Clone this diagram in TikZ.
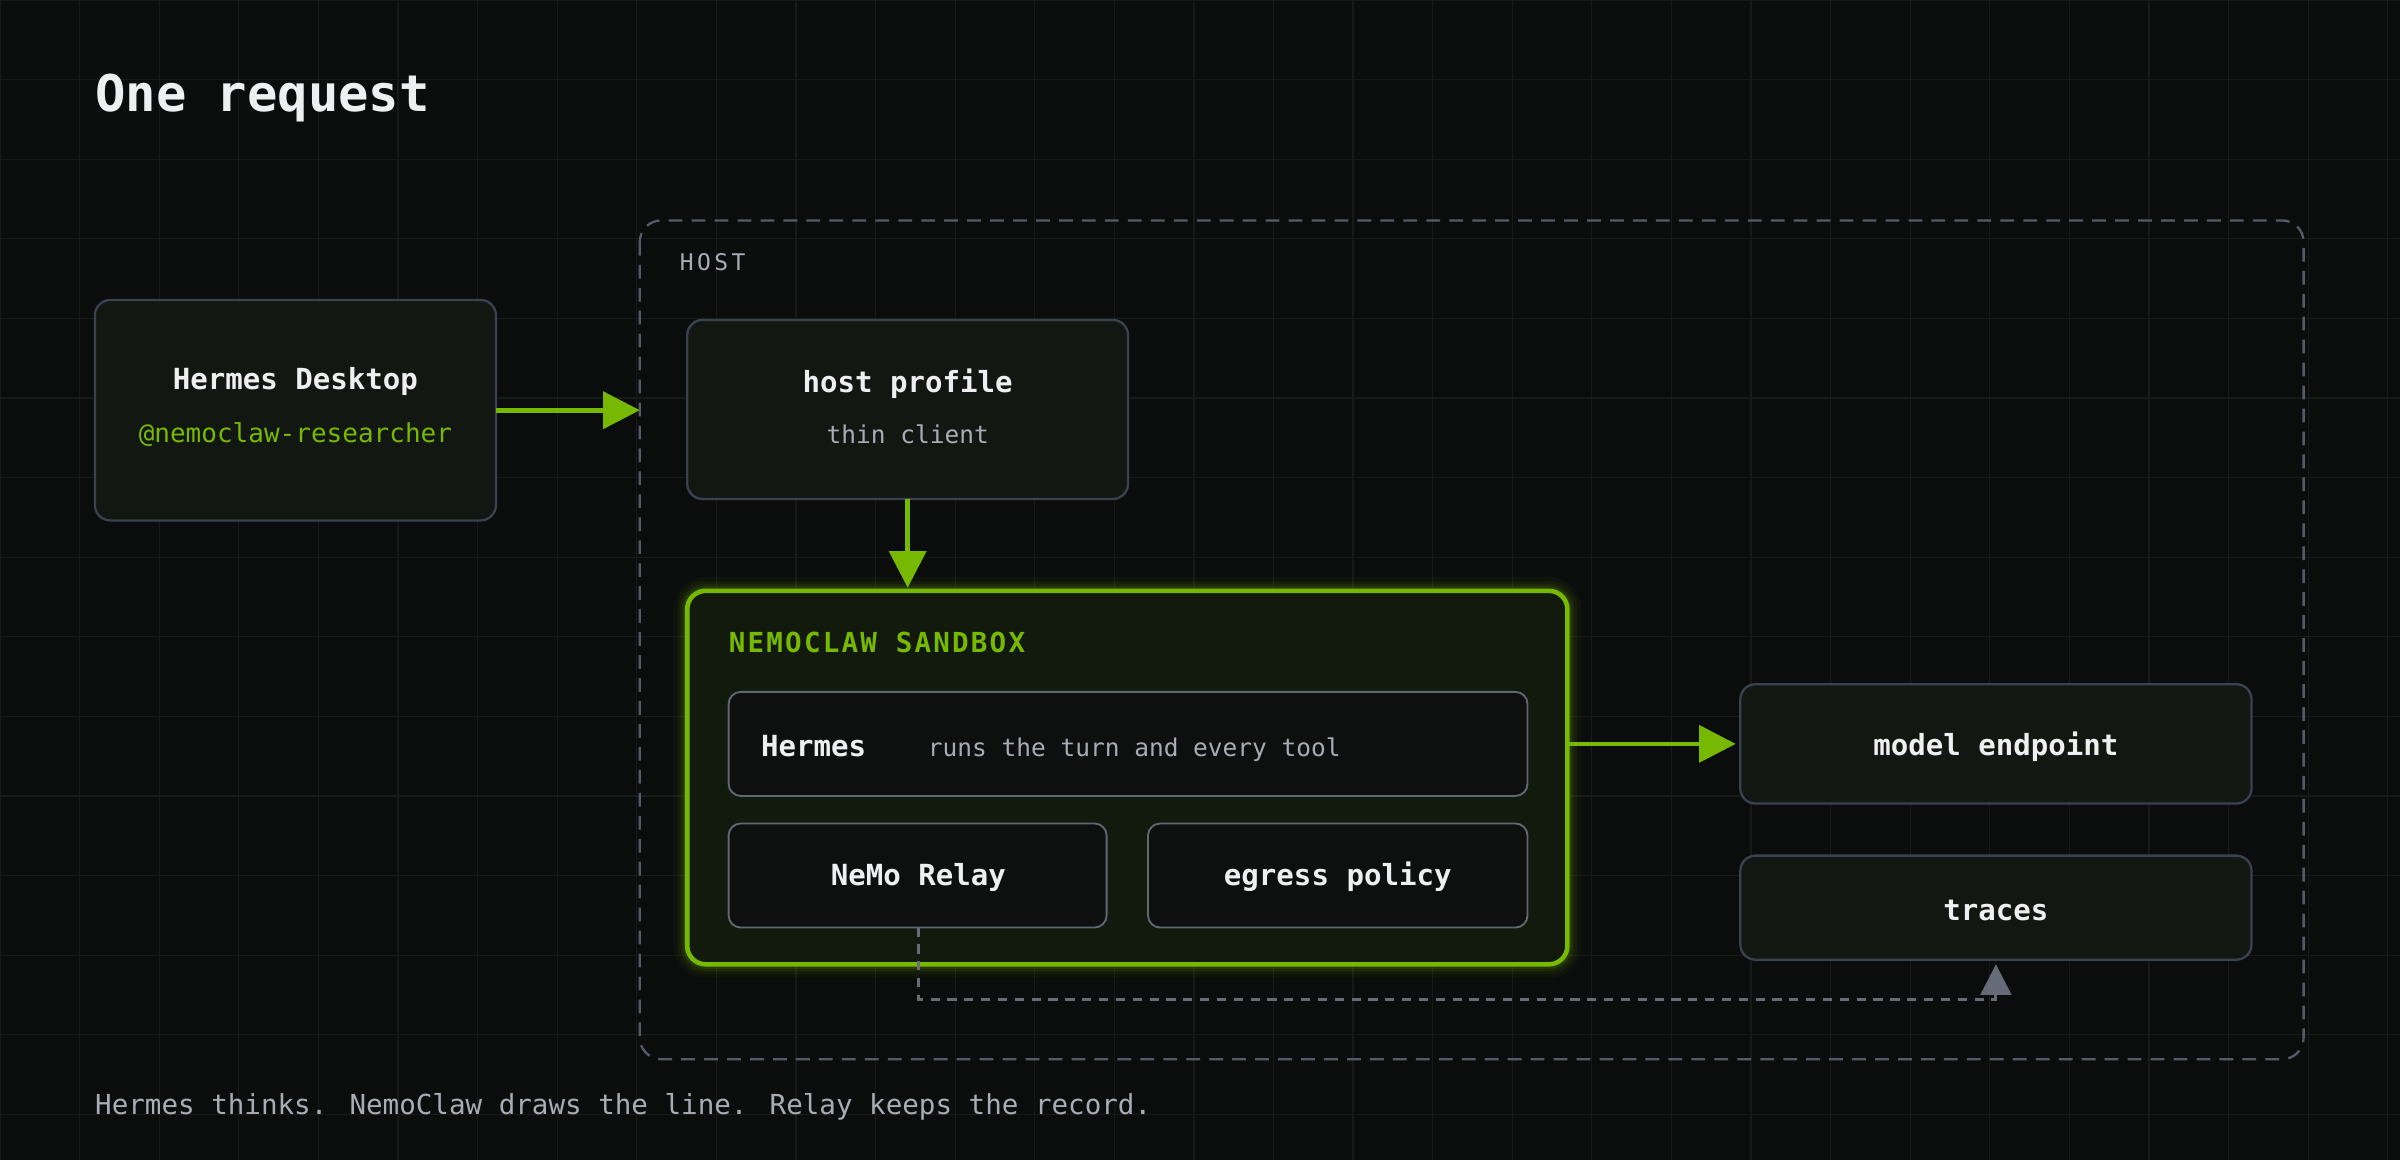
\documentclass[tikz,border=0pt]{standalone}
\usepackage{fontspec}
\setmainfont{DejaVu Sans Mono}
\usetikzlibrary{arrows.meta}
\definecolor{bg}{HTML}{0B0D0C}
\definecolor{gridc}{HTML}{161A18}
\definecolor{boxf}{HTML}{121712}
\definecolor{boxb}{HTML}{3A4150}
\definecolor{nv}{HTML}{76B900}
\definecolor{txt}{HTML}{EDEFF0}
\definecolor{mut}{HTML}{A8ADB5}
\definecolor{dashc}{HTML}{555B68}
\definecolor{sbf}{HTML}{111A0D}
\begin{document}
\begin{tikzpicture}[x=1pt,y=-1pt,
  box/.style={draw=boxb,line width=1.5pt,fill=boxf,rounded corners=10pt},
  ibox/.style={draw=boxb!80,line width=1.2pt,fill=bg!70!boxf,rounded corners=8pt},
  bt/.style={text=txt,font=\fontsize{19}{22}\selectfont\bfseries},
  st/.style={text=mut,font=\fontsize{16}{19}\selectfont},
  garrow/.style={draw=nv,line width=3pt,-{Triangle[length=24pt,width=24pt]}},
  lbl/.style={anchor=base west,inner sep=0pt}]
\useasboundingbox (0,0) rectangle (1568,758);
\fill[bg] (0,0) rectangle (1568,758);
\foreach \i in {0,...,30} \draw[gridc,line width=0.8pt] (\i*52,0) -- (\i*52,758);
\foreach \j in {0,...,15} \draw[gridc,line width=0.8pt] (0,\j*52) -- (1568,\j*52);
\node[lbl,text=txt,font=\fontsize{33}{38}\selectfont\bfseries] (title) at (62,73) {One request};
% host
\draw[dashc,line width=1.5pt,dash pattern=on 9pt off 6pt,rounded corners=14pt] (418,144) rectangle (1505,692);
\node[lbl,text=mut,font=\fontsize{15}{18}\selectfont\addfontfeature{LetterSpace=15}] (hostl) at (444,177) {HOST};
% desktop
\draw[box] (62,196) rectangle (324,340);
\node (desk) at (193,268) {};
\node[bt] at (193,249) {Hermes Desktop};
\node[text=nv,font=\fontsize{17}{20}\selectfont] at (193,284) {@nemoclaw-researcher};
% host profile
\draw[box] (449,209) rectangle (737,326);
\node[bt] at (593,251) {host profile};
\node[st] at (593,284) {thin client};
\coordinate (deskR) at (324,268);
\coordinate (hostL) at (418,268);
\draw[garrow] (deskR) -- (hostL);
\coordinate (hpB) at (593,326);
\coordinate (sbT) at (593,384);
\draw[garrow] (hpB) -- (sbT);
% sandbox glow
\foreach \w/\o in {18/0.04,13/0.06,9/0.08,6/0.12} \draw[nv,opacity=\o,line width=\w pt,rounded corners=12pt] (449,386) rectangle (1024,630);
\draw[draw=nv,line width=3pt,fill=sbf,rounded corners=12pt] (449,386) rectangle (1024,630);
\node[lbl,text=nv,font=\fontsize{18}{21}\selectfont\bfseries\addfontfeature{LetterSpace=8}] at (476,426) {NEMOCLAW SANDBOX};
\draw[ibox] (476,452) rectangle (998,520);
\node[lbl,text=txt,font=\fontsize{19}{22}\selectfont\bfseries] at (497,494) {Hermes};
\node[lbl,st] at (606,494) {runs the turn and every tool};
\draw[ibox] (476,538) rectangle (723,606);
\node[bt] (relay) at (600,573) {NeMo Relay};
\draw[ibox] (750,538) rectangle (998,606);
\node[bt] (egress) at (874,573) {egress policy};
% right
\draw[box] (1137,447) rectangle (1471,525);
\node[bt] (model) at (1304,488) {model endpoint};
\draw[box] (1137,559) rectangle (1471,627);
\node[bt] (traces) at (1304,595) {traces};
\coordinate (sbR) at (1024,486);
\coordinate (mL) at (1134,486);
\draw[garrow] (sbR) -- (mL);
\coordinate (rB) at (600,606);
\coordinate (tB) at (1304,630);
\draw[dashc!90!white,line width=2pt,dash pattern=on 6pt off 5pt,-{Triangle[length=20pt,width=20pt]}] (rB) -- (600,653) -- (1304,653) -- (tB);
\node[lbl,text=mut,font=\fontsize{18}{21}\selectfont] (cap) at (62,728) {Hermes thinks. NemoClaw draws the line. Relay keeps the record.};
\end{tikzpicture}
\end{document}
